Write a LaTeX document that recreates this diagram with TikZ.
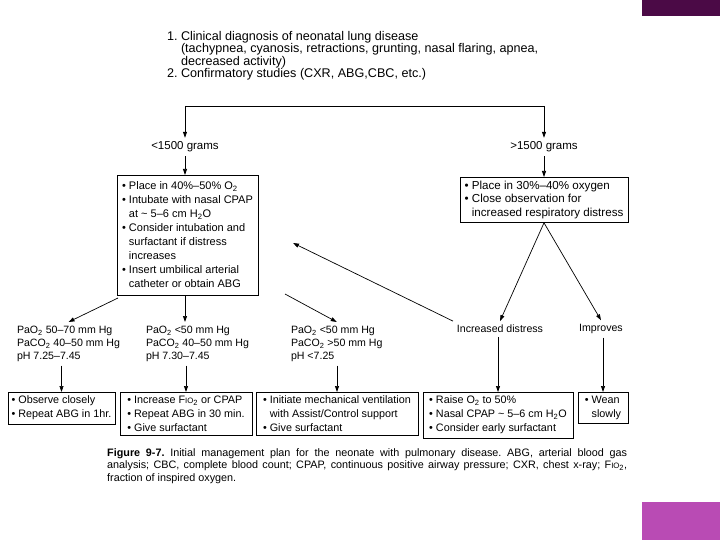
\documentclass[tikz,border=0pt]{standalone}
\usepackage{fontspec}
\setmainfont{Liberation Sans}
\usepackage{xcolor}
\usepackage{tikz}
\usetikzlibrary{positioning, arrows.meta}

\definecolor{barrascura}{RGB}{75,10,70}
\definecolor{barrachiara}{RGB}{185,75,180}

\newcommand{\punto}{\textbullet\ }
\newcommand{\rientro}{\phantom{\textbullet\ }}
\newcommand{\pedice}[1]{\textsubscript{#1}}
\newcommand{\fio}{F{\fontsize{7.8}{9}\selectfont IO}\textsubscript{2}}

\tikzset{
  testo/.style={font=\fontsize{10.6}{13}\selectfont, align=left, inner sep=0pt, outer sep=4pt},
  scatola/.style={draw, line width=0.9pt, font=\fontsize{11}{14}\selectfont, align=left,
                  inner xsep=3pt, inner ysep=4pt, outer sep=0pt, anchor=north west},
  finale/.style={scatola, font=\fontsize{10.8}{14}\selectfont},
  freccia/.style={-{Triangle[length=6pt,width=4pt]}, line width=0.7pt},
}

\begin{document}
\frenchspacing
\begin{tikzpicture}[x=1pt, y=-1pt]
        \useasboundingbox (0,0) rectangle (720,540);
        % Rettangoli viola
        \fill[barrascura] (642,0) rectangle (720,16);
        \fill[barrachiara] (642,502) rectangle (720,540);

        % Diagnosi iniziale
        \node[testo, anchor=north west, font=\fontsize{12.6}{12.5}\selectfont] (diag) at (163,27)
            {1.\ Clinical diagnosis of neonatal lung disease\\
             \phantom{1.\ }(tachypnea, cyanosis, retractions, grunting, nasal flaring, apnea,\\
             \phantom{1.\ }decreased activity)\\
             2.\ Confirmatory studies (CXR, ABG,CBC, etc.)};

        % Ramificazione per peso
        \coordinate (ramoL) at (185,106);
        \coordinate (ramoR) at (544,106);
        \draw[line width=0.7pt] (ramoL) -- (ramoR);
        \node[testo, font=\fontsize{11.5}{13}\selectfont] (lowwt) at (185,147) {<1500 grams};
        \node[testo, font=\fontsize{11.5}{13}\selectfont] (highwt) at (544,147) {>1500 grams};
        \draw[freccia] (ramoL) -- (lowwt.north);
        \draw[freccia] (ramoR) -- (highwt.north);

        % Riquadri per peso
        \node[scatola, minimum width=141pt, minimum height=120pt] (lowbox) at (117,175)
            {\punto Place in 40\%--50\% O\pedice{2}\\
             \punto Intubate with nasal CPAP\\
             \rientro at \textasciitilde{} 5--6 cm H\pedice{2}O\\
             \punto Consider intubation and\\
             \rientro surfactant if distress\\
             \rientro increases\\
             \punto Insert umbilical arterial\\
             \rientro catheter or obtain ABG};
        \node[scatola, minimum width=168pt, font=\fontsize{11.6}{13.5}\selectfont] (highbox) at (460,177)
            {\punto Place in 30\%--40\% oxygen\\
             \punto Close observation for\\
             \rientro increased respiratory distress};
        \draw[freccia] (lowwt) -- (lowbox.north -| lowwt);
        \draw[freccia] (highwt) -- (highbox.north -| highwt);

        % Emogasanalisi
        \node[testo, anchor=north west] (gasA) at (13,322)
            {PaO\pedice{2} 50--70 mm Hg\\PaCO\pedice{2} 40--50 mm Hg\\pH 7.25--7.45};
        \node[testo, anchor=north west] (gasB) at (142,322)
            {PaO\pedice{2} <50 mm Hg\\PaCO\pedice{2} 40--50 mm Hg\\pH 7.30--7.45};
        \node[testo, anchor=north west] (gasC) at (287,322)
            {PaO\pedice{2} <50 mm Hg\\PaCO\pedice{2} >50 mm Hg\\pH <7.25};
        \node[testo] (distress) at (500,329) {Increased distress};
        \node[testo] (improves) at (601,329) {Improves};

        \coordinate (partA) at (118,298);
        \coordinate (partC) at (285,294);
        \coordinate (ritorno) at (293,243);
        \draw[freccia] (partA) -- (gasA.north);
        \draw[freccia] (lowbox.south -| lowwt) -- (lowwt |- gasB.north);
        \draw[freccia] (partC) -- (gasC.north);
        \draw[freccia] (highbox.south) -- (distress.north);
        \draw[freccia] (highbox.south) -- (improves.north);
        \draw[freccia] (distress.north west) -- (ritorno);

        % Riquadri finali
        \node[finale, minimum width=107pt] (obsbox) at (8,392)
            {\punto Observe closely\\\punto Repeat ABG in 1hr.};
        \node[finale, minimum width=132pt] (incbox) at (120,392)
            {\punto Increase \fio{} or CPAP\\\punto Repeat ABG in 30 min.\\\punto Give surfactant};
        \node[finale, minimum width=162pt] (ventbox) at (256,392)
            {\punto Initiate mechanical ventilation\\\rientro with Assist/Control support\\\punto Give surfactant};
        \node[finale, minimum width=150pt] (raisebox) at (423,392)
            {\punto Raise O\pedice{2} to 50\%\\\punto Nasal CPAP \textasciitilde{} 5--6 cm H\pedice{2}O\\\punto Consider early surfactant};
        \node[finale, minimum width=50pt] (weanbox) at (578,392)
            {\punto Wean\\\rientro slowly};

        \draw[freccia] (gasA.south -| obsbox.north) -- (obsbox.north);
        \draw[freccia] (gasB.south -| incbox.north) -- (incbox.north);
        \draw[freccia] (gasC.south -| ventbox.north) -- (ventbox.north);
        \draw[freccia] (distress.south -| raisebox.north) -- (raisebox.north);
        \draw[freccia] (improves.south -| weanbox.north) -- (weanbox.north);

        % Didascalia
        \node[anchor=north west, inner sep=0pt, text width=520pt, align=justify,
              font=\fontsize{10.8}{12.5}\selectfont] (caption) at (107,448)
            {\textbf{Figure 9-7.} Initial management plan for the neonate with pulmonary disease. ABG, arterial blood gas\linebreak
             analysis; CBC, complete blood count; CPAP, continuous positive airway pressure; CXR, chest x-ray; \fio,\linebreak
             fraction of inspired oxygen.};
\end{tikzpicture}
\end{document}
